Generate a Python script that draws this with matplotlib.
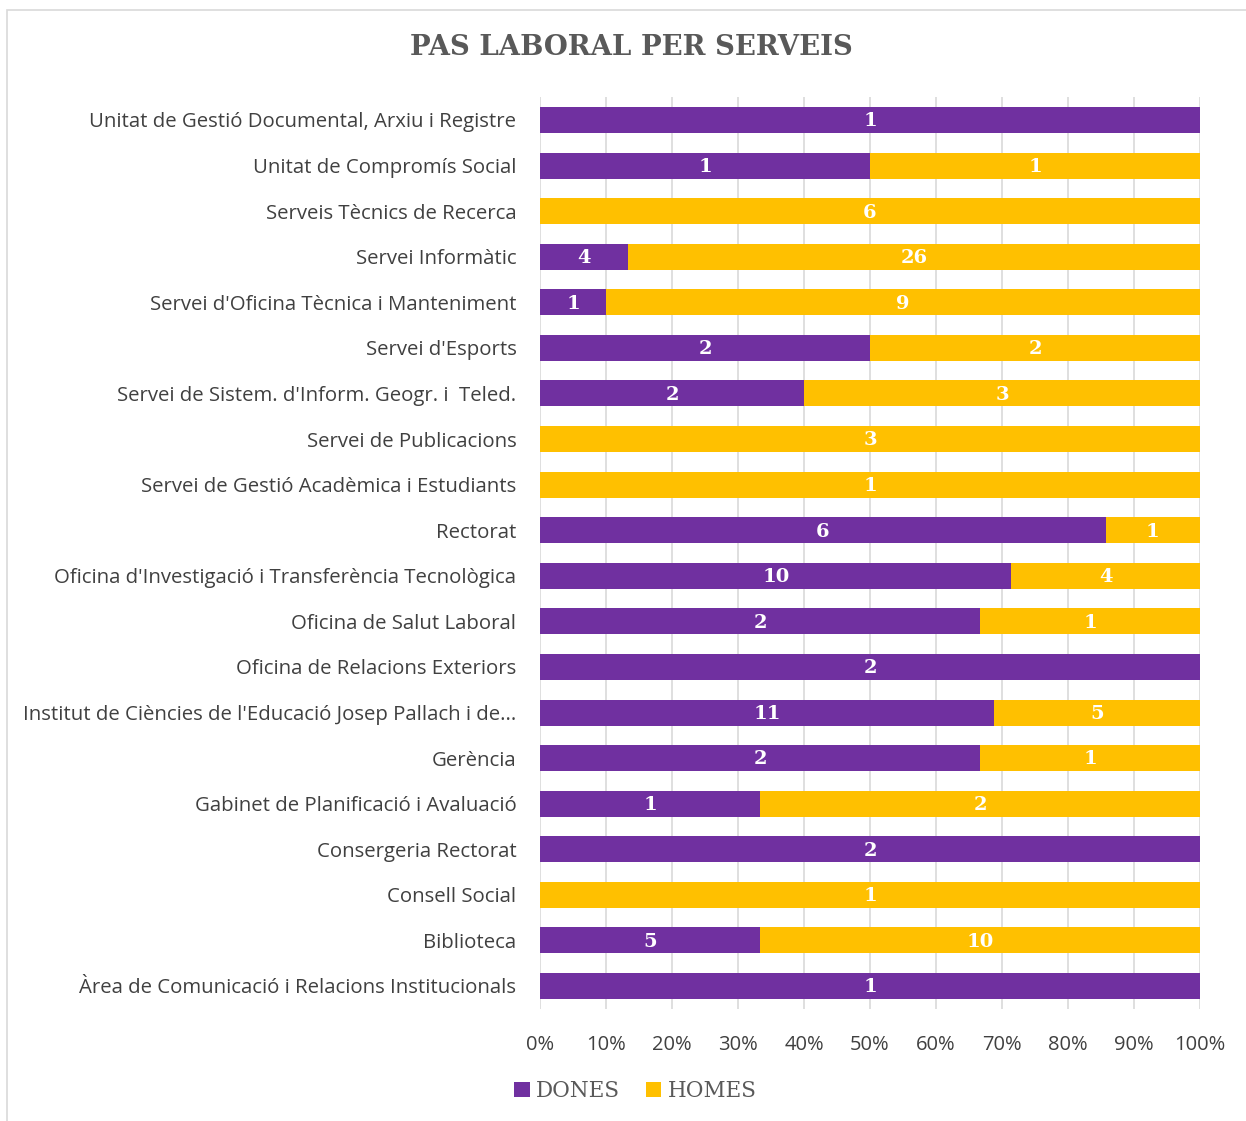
import matplotlib.pyplot as plt
import numpy as np

categories = [
    "Unitat de Gestió Documental, Arxiu i Registre",
    "Unitat de Compromís Social",
    "Serveis Tècnics de Recerca",
    "Servei Informàtic",
    "Servei d'Oficina Tècnica i Manteniment",
    "Servei d'Esports",
    "Servei de Sistem. d'Inform. Geogr. i  Teled.",
    "Servei de Publicacions",
    "Servei de Gestió Acadèmica i Estudiants",
    "Rectorat",
    "Oficina d'Investigació i Transferència Tecnològica",
    "Oficina de Salut Laboral",
    "Oficina de Relacions Exteriors",
    "Institut de Ciències de l'Educació Josep Pallach i de...",
    "Gerència",
    "Gabinet de Planificació i Avaluació",
    "Consergeria Rectorat",
    "Consell Social",
    "Biblioteca",
    "Àrea de Comunicació i Relacions Institucionals",
]
dones = np.array([1, 1, 0, 4, 1, 2, 2, 0, 0, 6, 10, 2, 2, 11, 2, 1, 2, 0, 5, 1])
homes = np.array([0, 1, 6, 26, 9, 2, 3, 3, 1, 1, 4, 1, 0, 5, 1, 2, 0, 1, 10, 0])

purple = "#7030A0"
yellow = "#FFC000"
grey = "#595959"
dark = "#404040"

total = dones + homes
pd_ = dones / total
ph = homes / total

fig = plt.figure(figsize=(12.46, 11.21), dpi=100)
ax = fig.add_axes([0.4334, 0.1001, 0.5297, 0.8132])

y = np.arange(len(categories))
h = 0.57
ax.barh(y, pd_, height=h, color=purple, label="DONES", zorder=3)
ax.barh(y, ph, left=pd_, height=h, color=yellow, label="HOMES", zorder=3)

lab_font = dict(family="DejaVu Serif", weight="bold", size=14, color="white")
for i in range(len(categories)):
    if dones[i] > 0:
        ax.text(pd_[i] / 2, y[i] + 0.03, str(dones[i]), ha="center", va="center", zorder=4, **lab_font)
    if homes[i] > 0:
        ax.text(pd_[i] + ph[i] / 2, y[i] + 0.03, str(homes[i]), ha="center", va="center", zorder=4, **lab_font)

ax.set_ylim(len(categories) - 0.5, -0.5)
ax.set_xlim(0, 1)
ax.set_yticks(y)
ax.set_yticklabels(categories, fontfamily="Open Sans", fontsize=14.7, color=dark)
ax.set_xticks(np.linspace(0, 1, 11))
ax.set_xticklabels([f"{p}%" for p in range(0, 101, 10)], fontfamily="Open Sans", fontsize=14.5, color=dark)
ax.tick_params(axis="both", length=0)
ax.tick_params(axis="y", pad=17)
ax.tick_params(axis="x", pad=19)
for s in ax.spines.values():
    s.set_visible(False)
ax.grid(axis="x", color="#D9D9D9", linewidth=1.2, zorder=0)

fig.text(0.5065, 0.958, "PAS LABORAL PER SERVEIS", ha="center", va="center",
         family="DejaVu Serif", weight="bold", size=19.8, color=grey)

leg = fig.legend(loc="center", bbox_to_anchor=(0.51, 0.027), ncol=2, frameon=False,
                 prop=dict(family="DejaVu Serif", size=15.5), handlelength=0.7, handleheight=0.7,
                 handletextpad=0.3, columnspacing=1.2)
for t in leg.get_texts():
    t.set_color(grey)

fig.patches.append(plt.Rectangle((0.006, -0.01), 1.0, 1.001, transform=fig.transFigure,
                                 fill=False, edgecolor="#D9D9D9", linewidth=1.2))

fig.savefig("out.png", dpi=100)
